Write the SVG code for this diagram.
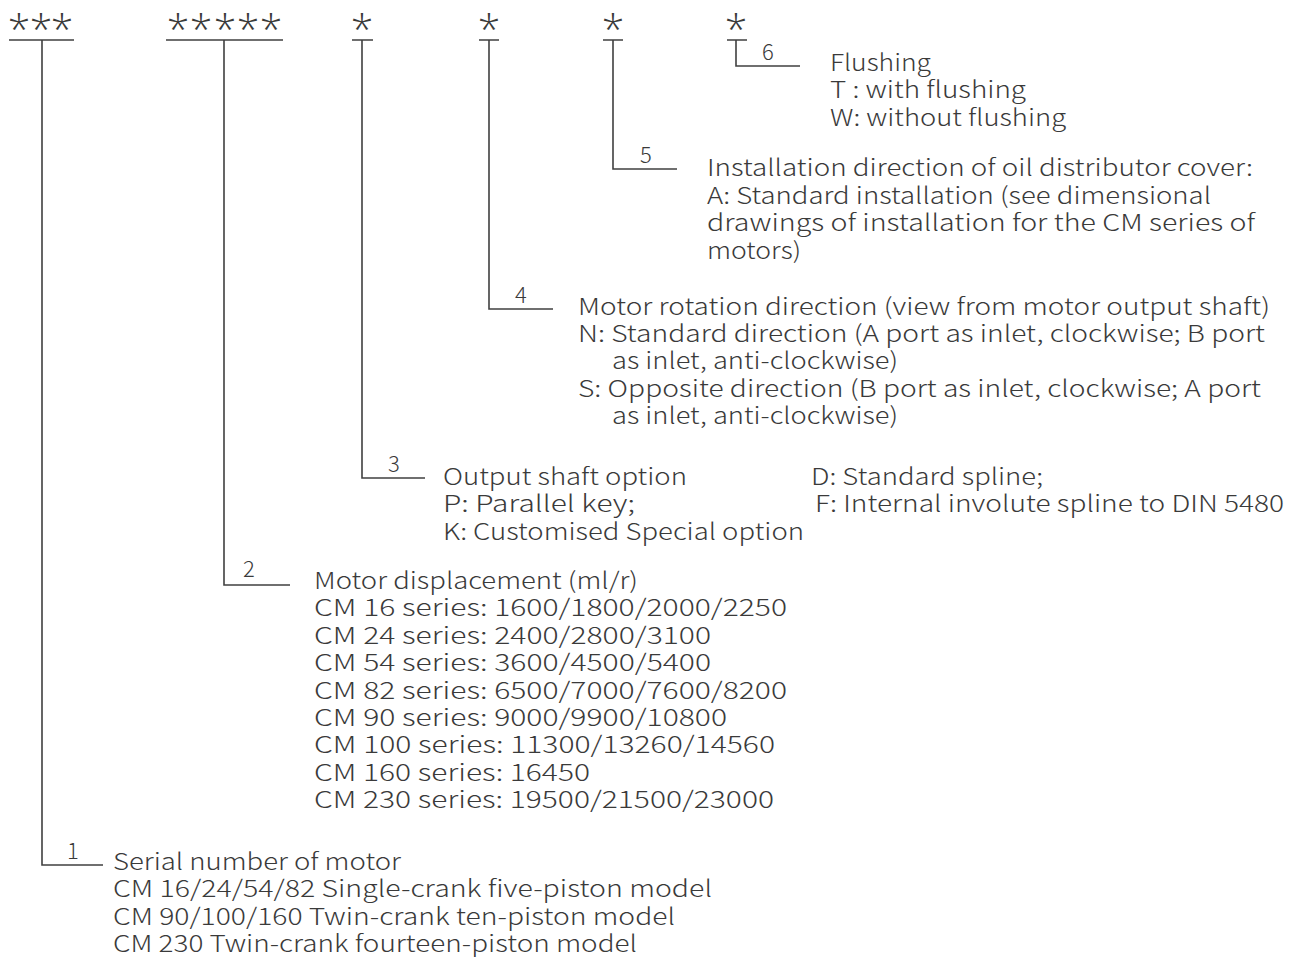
<svg xmlns="http://www.w3.org/2000/svg" width="1298" height="957" viewBox="0 0 1298 957">
<style>
.t{font-family:"Noto Sans CJK JP","Noto Sans",sans-serif;font-weight:300;font-size:23px;fill:#3a3a3a}
.n{font-family:"Noto Sans CJK JP","Noto Sans",sans-serif;font-weight:300;font-size:22px;fill:#3a3a3a;text-anchor:middle}
.s{font-family:"Open Sans",sans-serif;font-weight:300;font-size:41px;fill:#3a3a3a;text-anchor:middle}
.l{stroke:#404040;stroke-width:1.6;fill:none}
</style>
<rect width="1298" height="957" fill="#fff"/>
<g id="code">
<text class="s" x="19 41 62" y="44">***</text>
<text class="s" x="178 201 225 248 271" y="44">*****</text>
<text class="s" x="362" y="44">*</text>
<text class="s" x="489" y="44">*</text>
<text class="s" x="613" y="44">*</text>
<text class="s" x="736" y="44">*</text>
</g>
<g id="connectors">
<path class="l" d="M9 40H74M42 40V865H103"/>
<path class="l" d="M166 40H283M224 40V585H290"/>
<path class="l" d="M352 40H373M362 40V478H425"/>
<path class="l" d="M479 40H499M489 40V309H553"/>
<path class="l" d="M603 40H623M613 40V169H677"/>
<path class="l" d="M727 40H747M736 40V66H800"/>
</g>
<g id="labels">
<text class="n" x="73" y="859">1</text>
<text class="n" x="249" y="577">2</text>
<text class="n" x="394" y="472">3</text>
<text class="n" x="521" y="303">4</text>
<text class="n" x="646" y="163">5</text>
<text class="n" x="768" y="60">6</text>
</g>
<g id="node6">
<text class="t" x="830" y="71" textLength="101" lengthAdjust="spacingAndGlyphs">Flushing</text>
<text class="t" x="830" y="98" textLength="196" lengthAdjust="spacingAndGlyphs">T : with flushing</text>
<text class="t" x="830" y="126" textLength="236" lengthAdjust="spacingAndGlyphs">W: without flushing</text>
</g>
<g id="node5">
<text class="t" x="707" y="176" textLength="546" lengthAdjust="spacingAndGlyphs">Installation direction of oil distributor cover:</text>
<text class="t" x="707" y="204" textLength="504" lengthAdjust="spacingAndGlyphs">A: Standard installation (see dimensional</text>
<text class="t" x="707" y="231" textLength="548" lengthAdjust="spacingAndGlyphs">drawings of installation for the CM series of</text>
<text class="t" x="707" y="259" textLength="94" lengthAdjust="spacingAndGlyphs">motors)</text>
</g>
<g id="node4">
<text class="t" x="578" y="315" textLength="692" lengthAdjust="spacingAndGlyphs">Motor rotation direction (view from motor output shaft)</text>
<text class="t" x="578" y="342" textLength="687" lengthAdjust="spacingAndGlyphs">N: Standard direction (A port as inlet, clockwise; B port</text>
<text class="t" x="612" y="369" textLength="286" lengthAdjust="spacingAndGlyphs">as inlet, anti-clockwise)</text>
<text class="t" x="578" y="397" textLength="683" lengthAdjust="spacingAndGlyphs">S: Opposite direction (B port as inlet, clockwise; A port</text>
<text class="t" x="612" y="424" textLength="286" lengthAdjust="spacingAndGlyphs">as inlet, anti-clockwise)</text>
</g>
<g id="node3">
<text class="t" x="443" y="485" textLength="244" lengthAdjust="spacingAndGlyphs">Output shaft option</text>
<text class="t" x="443" y="512" textLength="192" lengthAdjust="spacingAndGlyphs">P: Parallel key;</text>
<text class="t" x="443" y="540" textLength="361" lengthAdjust="spacingAndGlyphs">K: Customised Special option</text>
<text class="t" x="811" y="485" textLength="232" lengthAdjust="spacingAndGlyphs">D: Standard spline;</text>
<text class="t" x="815" y="512" textLength="469" lengthAdjust="spacingAndGlyphs">F: Internal involute spline to DIN 5480</text>
</g>
<g id="node2">
<text class="t" x="314" y="589" textLength="324" lengthAdjust="spacingAndGlyphs">Motor displacement (ml/r)</text>
<text class="t" x="314" y="616" textLength="473" lengthAdjust="spacingAndGlyphs">CM 16 series: 1600/1800/2000/2250</text>
<text class="t" x="314" y="644" textLength="397" lengthAdjust="spacingAndGlyphs">CM 24 series: 2400/2800/3100</text>
<text class="t" x="314" y="671" textLength="397" lengthAdjust="spacingAndGlyphs">CM 54 series: 3600/4500/5400</text>
<text class="t" x="314" y="699" textLength="473" lengthAdjust="spacingAndGlyphs">CM 82 series: 6500/7000/7600/8200</text>
<text class="t" x="314" y="726" textLength="413" lengthAdjust="spacingAndGlyphs">CM 90 series: 9000/9900/10800</text>
<text class="t" x="314" y="753" textLength="461" lengthAdjust="spacingAndGlyphs">CM 100 series: 11300/13260/14560</text>
<text class="t" x="314" y="781" textLength="276" lengthAdjust="spacingAndGlyphs">CM 160 series: 16450</text>
<text class="t" x="314" y="808" textLength="460" lengthAdjust="spacingAndGlyphs">CM 230 series: 19500/21500/23000</text>
</g>
<g id="node1">
<text class="t" x="113" y="870" textLength="288" lengthAdjust="spacingAndGlyphs">Serial number of motor</text>
<text class="t" x="113" y="897" textLength="599" lengthAdjust="spacingAndGlyphs">CM 16/24/54/82 Single-crank five-piston model</text>
<text class="t" x="113" y="925" textLength="562" lengthAdjust="spacingAndGlyphs">CM 90/100/160 Twin-crank ten-piston model</text>
<text class="t" x="113" y="952" textLength="524" lengthAdjust="spacingAndGlyphs">CM 230 Twin-crank fourteen-piston model</text>
</g>
</svg>
